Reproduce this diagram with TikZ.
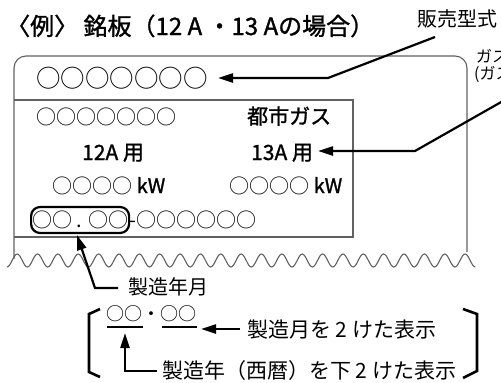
\documentclass[tikz,border=0pt]{standalone}
\usepackage{fontspec}
\setmainfont{Noto Sans CJK JP}
\newfontfamily\boldish{Noto Sans CJK JP}[FakeBold=1.3]
\usetikzlibrary{arrows.meta}
\begin{document}
\begin{tikzpicture}[x=1pt,y=-1pt,
  plate/.style={draw=black!62, line width=1.1pt},
  arr/.style={line width=2.2pt, -{Triangle[length=15pt,width=9pt]}},
  ln/.style={line width=2.2pt},
  brk/.style={line width=2.6pt},
  t/.style={inner sep=0pt, anchor=base west, font=\fontsize{20}{20}\selectfont},
  tb/.style={inner sep=0pt, anchor=base west, font=\fontsize{21}{21}\selectfont\boldish},
  side/.style={inner sep=0pt, anchor=base west, font=\fontsize{16}{16}\selectfont}]
\useasboundingbox (0,0) rectangle (501,383);

% title
\node[inner sep=0pt, anchor=base west, font=\fontsize{24}{24}\selectfont\boldish] (title) at (6,35) {〈例〉 銘板（12 A ・13 Aの場合）};

% plate
\draw[plate, rounded corners=12pt] (14,259) -- (14,56) -- (467,56) -- (467,252);
\draw[plate] (14,100) -- (353,100) -- (353,237) -- (14,237);
\draw[plate] (7,267) \foreach \i in {1,...,23}{ cos ++(5.09,-6.5) sin ++(5.09,-6.5) cos ++(5.09,6.5) sin ++(5.09,6.5) };

% plate texts
\node[t, font=\fontsize{24.5}{24.5}\selectfont] (r1) at (36,87) {○○○○○○○};
\node[t] (r2) at (36,124) {○○○○○○○};
\node[tb] (gas) at (247,124) {都市ガス};
\node[tb] (a12) at (82,160) {12A 用};
\node[tb] (a13) at (251,160) {13A 用};
\node[t] (kw1) at (52,193) {○○○○ {\boldish kW}};
\node[t] (kw2) at (229,193) {○○○○ {\boldish kW}};
\node[draw, line width=2.2pt, rounded corners=9pt, minimum width=98pt, minimum height=26pt,
      inner sep=0pt, anchor=west, font=\fontsize{20}{20}\selectfont] (ym) at (30,220) {○○ . ○○};
\node[t] (serial) at (129,227) {-○○○○○○};

% labels
\node[t] (lbl1) at (417,26) {販売型式};
\node[side] (lbl2) at (476,62) {ガス種};
\node[side] (lbl2b) at (474,79) {(ガスグループ)};

\coordinate (a1s) at (435,37);
\coordinate (a1b) at (328,78);
\coordinate (a1t) at (218,78);
\draw[arr] (a1s) -- (a1b) -- (a1t);

\coordinate (a2s) at (510,97);
\coordinate (a2b) at (415,151);
\coordinate (a2t) at (318,151);
\draw[arr] (a2s) -- (a2b) -- (a2t);

% bottom legend
\node[t] (yml) at (128,294) {製造年月};
\coordinate (a3b) at (95,288);
\coordinate (a3t) at (77,235);
\draw[arr] ([xshift=-10pt]yml.west |- a3b) -- (a3b) -- (a3t);

\node[t, font=\fontsize{18}{18}\selectfont] (yy) at (106,320.5) {○○・○○};
\draw[ln] (107,327) -- (143,327);
\draw[ln] (162,327) -- (197,327);

\node[t, font=\fontsize{21}{21}\selectfont] (mlbl) at (247,337) {製造月を 2 けた表示};
\coordinate (a4t) at (201,329);
\draw[arr] ([xshift=-7pt]mlbl.west |- a4t) -- (a4t);

\node[t, font=\fontsize{21}{21}\selectfont] (ylbl) at (162,378) {製造年（西暦）を下 2 けた表示};
\coordinate (a5b) at (125,371);
\coordinate (a5t) at (125,333);
\draw[arr] ([xshift=-5pt]ylbl.west |- a5b) -- (a5b) -- (a5t);

\draw[brk] (100,309) -- (89,314) -- (89,372) -- (100,377);
\draw[brk] (463,309) -- (477,314) -- (477,371) -- (463,378);
\end{tikzpicture}
\end{document}
